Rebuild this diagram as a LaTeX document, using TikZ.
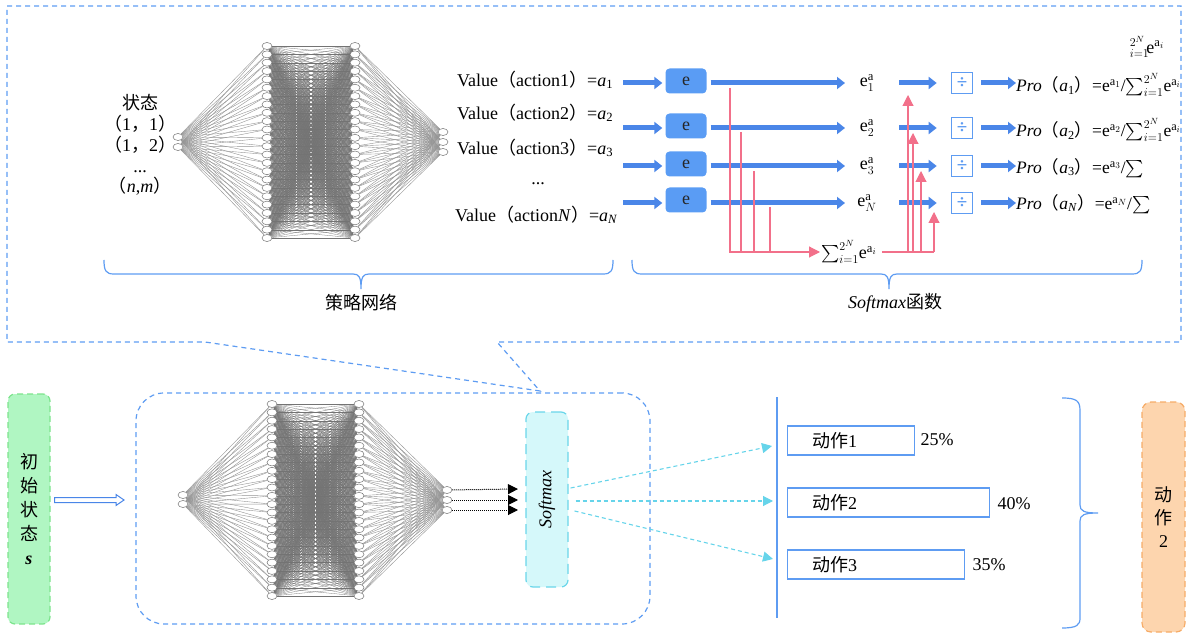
\documentclass[tikz,border=0pt]{standalone}
\usepackage{fontspec}
\usepackage{amsmath}
\usepackage{graphicx}
\setmainfont{Liberation Serif}
\newfontfamily\cjk{Noto Sans CJK SC}
\usetikzlibrary{arrows.meta,shapes.geometric,backgrounds,calc}
\definecolor{lblue}{HTML}{5E9CF2}
\definecolor{ebox}{HTML}{5A9CF4}
\definecolor{barrowc}{HTML}{4A86E8}
\definecolor{pk}{HTML}{F2708A}
\definecolor{smfill}{HTML}{D5F8FA}
\definecolor{smdraw}{HTML}{6AD6EA}
\definecolor{gfill}{HTML}{B0F6C2}
\definecolor{gdraw}{HTML}{7CE48C}
\definecolor{ofill}{HTML}{FDD5AE}
\definecolor{odraw}{HTML}{F6AC68}
\definecolor{cyarr}{HTML}{66D4EA}
\newcommand{\lp}{{\cjk （}}
\newcommand{\rp}{{\cjk ）}}
\newcommand{\cmm}{{\cjk ，}}
\tikzset{
  neu/.style={ellipse, draw=black!55, fill=white, line width=0.5pt, minimum width=10pt, minimum height=7pt, inner sep=0pt},
  edgeA/.style={draw=black!42, line width=0.4pt},
  edgeB/.style={draw=black!55, line width=0.28pt},
  blk/.style={draw=barrowc, line width=5pt, -{Triangle[length=8pt,width=12pt]}},
  pkl/.style={draw=pk, line width=1.1pt},
  pka/.style={pkl, -{Triangle[length=11pt,width=11pt]}},
  ebx/.style={fill=ebox, rounded corners=4pt, minimum width=41pt, minimum height=25pt, inner sep=0pt, text=black!85},
  dv/.style={draw=lblue, line width=1.6pt, fill=white, minimum size=21pt, inner sep=0pt, text=lblue, font=\bfseries\fontsize{19}{19}\selectfont},
  dashblue/.style={draw=lblue, line width=1.2pt, dash pattern=on 5pt off 4pt},
  brace/.style={draw=lblue, line width=1.2pt},
  tall/.style={minimum width=42pt, minimum height=230pt, rounded corners=7pt, line width=1.2pt, dash pattern=on 6pt off 4pt, inner sep=0pt},
  abox/.style={draw=lblue, line width=1.2pt, minimum height=29pt, inner sep=0pt, anchor=west},
  dotarr/.style={draw=black, densely dotted, line width=1pt, -{Triangle[length=10pt,width=10pt]}},
  cyar/.style={draw=cyarr, line width=1.1pt, dash pattern=on 4pt off 3pt, -{Triangle[length=10pt,width=10pt]}},
}
\begin{document}
\begin{tikzpicture}[x=1pt,y=-1pt, font=\fontsize{18}{21}\selectfont]
\useasboundingbox (0,0) rectangle (1186,636);

% ---------- top callout box ----------
\draw[dashblue] (7,6) -- (1181,6) -- (1181,342) -- (497,342) -- (540,391) -- (205,342) -- (7,342) -- cycle;

% ---------- top network ----------
\foreach \i in {1,...,24} {
  \node[neu] (ta\i) at (267,{46+(\i-1)*8.348}) {};
  \node[neu] (tb\i) at (355,{46+(\i-1)*8.348}) {};
}
\foreach \i/\y in {1/137,2/147} \node[neu] (ti\i) at (178,\y) {};
\foreach \i/\y in {1/132,2/142,3/152} \node[neu] (to\i) at (443,\y) {};
\begin{pgfonlayer}{background}
\foreach \i in {1,...,24} {
  \foreach \j in {1,...,24} {\draw[edgeB] (ta\i) -- (tb\j);}
  \foreach \j in {1,2} {\draw[edgeA] (ti\j) -- (ta\i);}
  \foreach \j in {1,2,3} {\draw[edgeA] (tb\i) -- (to\j);}
}
\end{pgfonlayer}

\node[align=center, font=\fontsize{18}{20.8}\selectfont] (st) at (140,145)
  {{\cjk 状态}\\\lp 1\cmm 1\rp\\\lp 1\cmm 2\rp\\...\\\lp\textit{n},\textit{m}\rp};

% ---------- values ----------
\node[anchor=west, inner sep=0pt] (v1) at (457,80) {Value\lp action1\rp=\textit{a}\textsubscript{1}};
\node[anchor=west, inner sep=0pt] (v2) at (457,113) {Value\lp action2\rp=\textit{a}\textsubscript{2}};
\node[anchor=west, inner sep=0pt] (v3) at (457,148) {Value\lp action3\rp=\textit{a}\textsubscript{3}};
\node (vd) at (538,184) {...};
\node[anchor=west, inner sep=0pt] (v4) at (455,215) {Value\lp action\textit{N}\rp=\textit{a}\textsubscript{\textit{N}}};

\coordinate (s1) at (623,83);
\coordinate (s2) at (623,128);
\coordinate (s3) at (623,166);
\coordinate (s4) at (623,203);

\node[ebx] (E1) at (686,81) {e};
\node[ebx] (E2) at (686,126) {e};
\node[ebx] (E3) at (686,164) {e};
\node[ebx] (E4) at (686,200) {e};

\node (EA1) at (867,83) {$\text{e}^{\text{a}}_{1}$};
\node (EA2) at (867,128) {$\text{e}^{\text{a}}_{2}$};
\node (EA3) at (867,166) {$\text{e}^{\text{a}}_{3}$};
\node (EA4) at (867,203) {$\text{e}^{\text{a}}_{N}$};

\node[dv] (D1) at (962,83) {÷};
\node[dv] (D2) at (962,128) {÷};
\node[dv] (D3) at (962,166) {÷};
\node[dv] (D4) at (962,203) {÷};

\node[anchor=west, inner sep=0pt, font=\fontsize{17.5}{21}\selectfont] (P1) at (1016,85) {\textit{Pro}\lp\textit{a}\textsubscript{1}\rp=e$^{\text{a}_1}$/$\sum_{i=1}^{2^N}\!\text{e}^{\text{a}_i}$};
\node[anchor=west, inner sep=0pt, font=\fontsize{17.5}{21}\selectfont] (P2) at (1016,130) {\textit{Pro}\lp\textit{a}\textsubscript{2}\rp=e$^{\text{a}_2}$/$\sum_{i=1}^{2^N}\!\text{e}^{\text{a}_i}$};
\node[anchor=west, inner sep=0pt, font=\fontsize{17.5}{21}\selectfont] (P3) at (1016,168) {\textit{Pro}\lp\textit{a}\textsubscript{3}\rp=e$^{\text{a}_3}$/$\sum$};
\node[anchor=west, inner sep=0pt, font=\fontsize{17.5}{21}\selectfont] (P4) at (1016,204) {\textit{Pro}\lp\textit{a}\textsubscript{\textit{N}}\rp=e$^{\text{a}_N}$/$\sum$};
\node (ghost) at (1147,47) {${}^{2^N}_{i=1}\!\text{e}^{\text{a}_i}$};

\foreach \k in {1,2,3,4} {
  \draw[blk] (s\k) -- ($(E\k.west |- s\k)+(-3,0)$);
  \draw[blk] ($(E\k.east |- s\k)+(4,0)$) -- ($(EA\k.center)+(-22,0)$);
  \draw[blk] ($(EA\k.center)+(32,0)$) -- ($(D\k.west)+(-14,0)$);
  \draw[blk] ($(D\k.east)+(8,0)$) -- (P\k.west |- D\k.east);
}

% ---------- pink sum lines ----------
\node[anchor=west, inner sep=1pt] (SUM) at (820,252) {$\sum_{i=1}^{2^N}\!\text{e}^{\text{a}_i}$};
\coordinate (k1) at (730,88);
\coordinate (k2) at (741,132);
\coordinate (k3) at (754,171);
\coordinate (k4) at (770,207);
\draw[pka] (k1) |- (SUM.west);
\foreach \k in {2,3,4} \draw[pkl] (k\k) -- (k\k |- SUM.west);
\coordinate (sr) at (934,252);
\draw[pkl] ($(SUM.east)+(4,0)$) -- (sr);
\coordinate (u1) at (908,95);
\coordinate (u2) at (913,133);
\coordinate (u3) at (921,171);
\coordinate (u4) at (934,212);
\foreach \k in {1,2,3,4} \draw[pka] (u\k |- sr) -- (u\k);

% ---------- braces ----------
\draw[brace] (104,260) .. controls (104,271) and (106,274) .. (114,274) -- (353,274) .. controls (359,274) and (361,277) .. (361,289) .. controls (361,277) and (363,274) .. (369,274) -- (603,274) .. controls (611,274) and (613,271) .. (613,260);
\draw[brace] (632,260) .. controls (632,271) and (634,274) .. (642,274) -- (881,274) .. controls (887,274) and (889,277) .. (889,289) .. controls (889,277) and (891,274) .. (897,274) -- (1132,274) .. controls (1140,274) and (1142,271) .. (1142,260);
\node (L1) at (361,303) {\cjk 策略网络};
\node (L2) at (895,303) {\textit{Softmax}{\cjk 函数}};

% ---------- bottom ----------
\node[tall, draw=gdraw, fill=gfill, align=center, font=\fontsize{18}{24}\selectfont\cjk] (G) at (29,509)
  {初\\始\\状\\态\\{\rmfamily\bfseries\itshape s}};
\node[dashblue, rounded corners=28pt, minimum width=514pt, minimum height=231pt] (BB) at (393,508.5) {};

\coordinate (da) at (124,500);
\coordinate (d0) at ($(G.east |- da)+(4,0)$);
\draw[draw=barrowc, fill=white, line width=1pt] ($(d0)+(0,-2.5)$) -- ($(da)+(-8,-2.5)$) -- ($(da)+(-8,-5.5)$) -- (da) -- ($(da)+(-8,5.5)$) -- ($(da)+(-8,2.5)$) -- ($(d0)+(0,2.5)$) -- cycle;

\foreach \i in {1,...,24} {
  \node[neu] (ba\i) at (272,{404+(\i-1)*8.348}) {};
  \node[neu] (bb\i) at (359,{404+(\i-1)*8.348}) {};
}
\foreach \i/\y in {1/495,2/504} \node[neu] (bi\i) at (183,\y) {};
\foreach \i/\y in {1/490,2/500,3/510} \node[neu] (bo\i) at (447,\y) {};
\begin{pgfonlayer}{background}
\foreach \i in {1,...,24} {
  \foreach \j in {1,...,24} {\draw[edgeB] (ba\i) -- (bb\j);}
  \foreach \j in {1,2} {\draw[edgeA] (bi\j) -- (ba\i);}
  \foreach \j in {1,2,3} {\draw[edgeA] (bb\i) -- (bo\j);}
}
\end{pgfonlayer}

\node[tall, draw=smdraw, fill=smfill, minimum height=175pt, dash pattern=on 10pt off 6pt] (SM) at (547,499.5) {\rotatebox{90}{\textit{Softmax}}};

\coordinate (q1) at (518,489);
\coordinate (q2) at (518,500);
\coordinate (q3) at (518,510);
\foreach \k in {1,2,3} \draw[dotarr] (bo\k) -- (q\k);

\coordinate (e1) at (772,446);
\coordinate (e2) at (773,501);
\coordinate (e3) at (773,559);
\draw[cyar] ($(SM.east)+(2,-11.5)$) -- (e1);
\draw[cyar] ($(SM.east)+(7,1.5)$) -- (e2);
\draw[cyar] ($(SM.east)+(6,11.5)$) -- (e3);

\draw[draw=lblue, line width=1.2pt] (777,397) -- (777,618);

\node[abox, minimum width=127pt] (A1) at (787,440.5) {};
\node[abox, minimum width=202pt] (A2) at (787,502.5) {};
\node[abox, minimum width=177pt] (A3) at (787,564.5) {};
\node[anchor=west, inner sep=0pt] (A1t) at ($(A1.west)+(25,0)$) {{\cjk 动作}1};
\node[anchor=west, inner sep=0pt] (A2t) at ($(A2.west)+(25,0)$) {{\cjk 动作}2};
\node[anchor=west, inner sep=0pt] (A3t) at ($(A3.west)+(25,0)$) {{\cjk 动作}3};
\node (p1) at (937,440) {25\%};
\node (p2) at (1014,504) {40\%};
\node (p3) at (989,565) {35\%};

\draw[brace] (1062,398) .. controls (1077,398) and (1080,401) .. (1080,411) -- (1080,505) .. controls (1080,511) and (1084,513) .. (1098,513) .. controls (1084,513) and (1080,515) .. (1080,521) -- (1080,618) .. controls (1080,625) and (1077,628) .. (1062,628);

\node[tall, draw=odraw, fill=ofill, minimum width=43pt, rounded corners=9pt, align=center, font=\fontsize{18}{23}\selectfont\cjk] (O) at (1163.5,517) {动\\作\\{\rmfamily 2}};
\end{tikzpicture}
\end{document}
